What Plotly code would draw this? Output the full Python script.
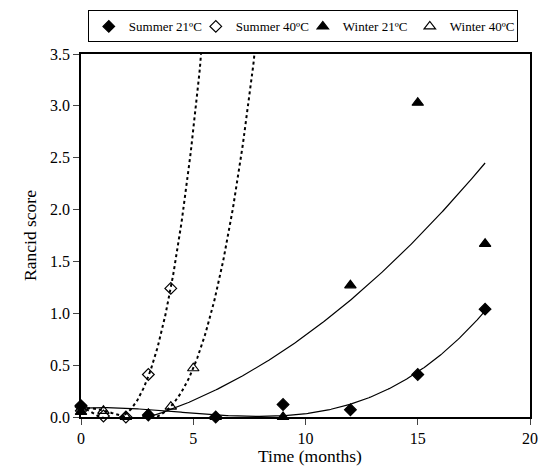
import numpy as np
import plotly.graph_objects as go

# Data
s21_x = [0, 3, 6, 9, 12, 15, 18]
s21_y = [0.11, 0.02, 0.0, 0.12, 0.07, 0.41, 1.04]
s40_x = [0, 1, 2, 3, 4]
s40_y = [0.10, 0.01, 0.0, 0.41, 1.24]
w21_x = [0, 3, 6, 9, 12, 15, 18]
w21_y = [0.05, 0.03, 0.0, 0.0, 1.27, 3.03, 1.67]
w40_x = [0, 1, 2, 4, 5]
w40_y = [0.08, 0.06, 0.0, 0.10, 0.47]

names = ["Summer 21ºC", "Summer 40ºC", "Winter 21ºC", "Winter 40ºC"]
x_ticks = [0, 5, 10, 15, 20]
y_ticks = [0.0, 0.5, 1.0, 1.5, 2.0, 2.5, 3.0, 3.5]
x_title = "Time (months)"
y_title = "Rancid score"

FONT = "Liberation Serif, Times New Roman, serif"

def trend(xs, ys, order, x0, x1):
    c = np.polyfit(xs, ys, order)
    xx = np.linspace(x0, x1, 300)
    return xx, np.polyval(c, xx)

fig = go.Figure()

# trend lines
for xs, ys, order, x0, x1, dash in [
    (s21_x, s21_y, 3, 0, 18, "solid"),
    (s40_x, s40_y, 3, 0, 8, "dot"),
    (w21_x, w21_y, 2, 0, 18, "solid"),
    (w40_x, w40_y, 3, 0, 10, "dot"),
]:
    xx, yy = trend(xs, ys, order, x0, x1)
    fig.add_trace(go.Scatter(x=xx, y=yy, mode="lines", showlegend=False,
                             line=dict(color="black", width=1.2 if dash == "solid" else 2, dash=dash),
                             hoverinfo="skip"))

# markers
marker_specs = [
    (s21_x, s21_y, "diamond", 9),
    (s40_x, s40_y, "diamond-open", 9),
    (w21_x, w21_y, "triangle-up", 10),
    (w40_x, w40_y, "triangle-up-open", 10),
]
for (xs, ys, sym, sz), nm in zip(marker_specs, names):
    fig.add_trace(go.Scatter(x=xs, y=ys, mode="markers", name=nm, cliponaxis=False,
                             marker=dict(symbol=sym, color="black", size=sz,
                                         line=dict(color="black", width=1.2))))

tickfont = dict(family=FONT, size=16, color="black")
titlefont = dict(family=FONT, size=17.5, color="black")
fig.update_layout(
    width=550, height=470,
    margin=dict(l=81, r=20, t=54, b=53, autoexpand=False),
    paper_bgcolor="white", plot_bgcolor="white",
    font=dict(family=FONT, color="black", size=16),
    legend=dict(orientation="h", x=0.494, xanchor="center", y=1.12, yanchor="top",
                bordercolor="black", borderwidth=1, font=dict(family=FONT, size=13),
                itemwidth=30, entrywidth=62, entrywidthmode="pixels", tracegroupgap=0),
    xaxis=dict(range=[0, 20], tickvals=x_ticks, ticks="outside", ticklen=6, tickfont=tickfont,
               showline=True, linecolor="black", linewidth=1.5, mirror=True,
               showgrid=False, zeroline=False, automargin=False),
    yaxis=dict(range=[0, 3.5], tickvals=y_ticks, tickformat=".1f", ticks="outside", ticklen=6,
               tickfont=tickfont, automargin=False,
               showline=True, linecolor="black", linewidth=1.5, mirror=True,
               showgrid=False, zeroline=False,
               title=dict(text=y_title, font=titlefont, standoff=9)),
    annotations=[dict(text=x_title, xref="paper", yref="paper", x=0.51, y=-0.108,
                      xanchor="center", yanchor="middle", showarrow=False, font=titlefont)],
)

fig.write_html("out.html")
